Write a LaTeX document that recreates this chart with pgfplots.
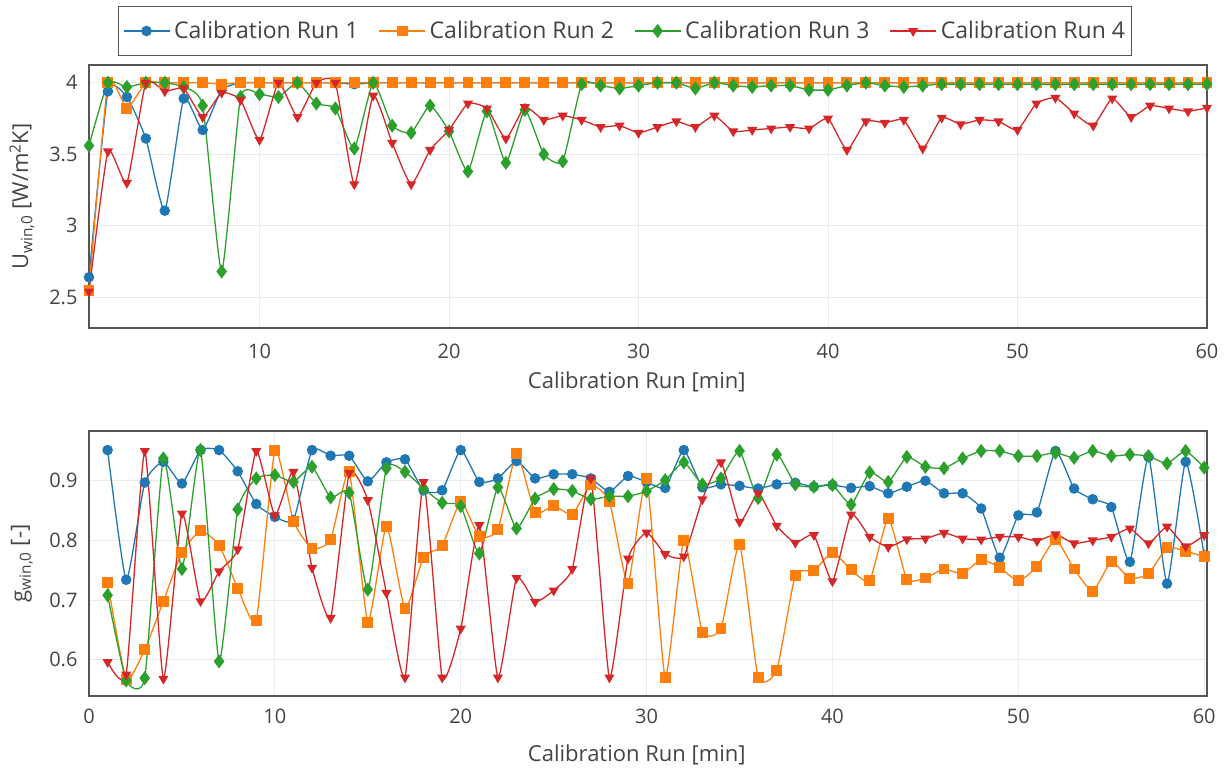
\documentclass[border=0pt]{standalone}
\usepackage{pgfplots}
\pgfplotsset{compat=1.18}
\usepackage{pgfplotstable}
\usepackage{fontspec}
\setmainfont{Open Sans}

\definecolor{c1}{HTML}{1F77B4}
\definecolor{c2}{HTML}{FF7F0E}
\definecolor{c3}{HTML}{2CA02C}
\definecolor{c4}{HTML}{D62728}
\definecolor{txt}{HTML}{444444}
\definecolor{frame}{HTML}{555555}
\definecolor{gridc}{HTML}{EBEBEB}

% U-value per calibration minute
\pgfplotstableread{
x r1 r2 r3 r4
1 2.64 2.55 3.56 2.54
2 3.94 4.00 4.00 3.52
3 3.90 3.82 3.97 3.30
4 3.61 4.00 4.00 4.00
5 3.105 4.00 4.00 3.94
6 3.89 4.00 3.97 3.96
7 3.67 4.00 3.84 3.76
8 3.95 3.99 2.68 3.93
9 4.00 4.00 3.90 3.88
10 4.00 4.00 3.92 3.60
11 4.00 4.00 3.90 4.00
12 4.00 4.00 4.00 3.76
13 4.00 4.00 3.855 4.00
14 4.00 4.00 3.82 4.00
15 3.99 4.00 3.54 3.29
16 4.00 4.00 4.00 3.91
17 4.00 4.00 3.70 3.58
18 4.00 4.00 3.65 3.29
19 4.00 4.00 3.84 3.53
20 4.00 4.00 3.66 3.67
21 4.00 4.00 3.38 3.855
22 4.00 4.00 3.80 3.82
23 4.00 4.00 3.44 3.61
24 4.00 4.00 3.81 3.83
25 4.00 4.00 3.50 3.74
26 4.00 4.00 3.45 3.77
27 4.00 4.00 3.99 3.74
28 4.00 4.00 3.98 3.69
29 4.00 4.00 3.96 3.70
30 4.00 4.00 3.98 3.65
31 4.00 4.00 4.00 3.69
32 4.00 4.00 4.00 3.73
33 4.00 4.00 3.96 3.69
34 4.00 4.00 4.00 3.77
35 4.00 4.00 3.98 3.66
36 4.00 4.00 3.97 3.67
37 4.00 4.00 3.98 3.68
38 4.00 4.00 3.98 3.69
39 4.00 4.00 3.95 3.68
40 4.00 4.00 3.95 3.75
41 4.00 4.00 3.98 3.53
42 4.00 4.00 4.00 3.73
43 4.00 4.00 3.98 3.72
44 4.00 4.00 3.97 3.74
45 4.00 4.00 3.98 3.54
46 4.00 4.00 3.99 3.755
47 4.00 4.00 3.99 3.71
48 4.00 4.00 3.99 3.74
49 4.00 4.00 3.99 3.73
50 4.00 4.00 3.99 3.67
51 4.00 4.00 3.99 3.855
52 4.00 4.00 3.99 3.895
53 4.00 4.00 3.99 3.785
54 4.00 4.00 3.99 3.70
55 4.00 4.00 3.99 3.89
56 4.00 4.00 3.99 3.76
57 4.00 4.00 3.99 3.84
58 4.00 4.00 3.99 3.82
59 4.00 4.00 3.99 3.80
60 4.00 4.00 3.99 3.825
}\utable

% g-value per calibration minute
\pgfplotstableread{
x r1 r2 r3 r4
1 0.9515 0.729 0.708 0.596
2 0.734 0.567 0.565 0.575
3 0.897 0.617 0.569 0.950
4 0.932 0.698 0.9375 0.568
5 0.8955 0.780 0.752 0.845
6 0.9515 0.816 0.9515 0.698
7 0.9515 0.792 0.597 0.748
8 0.916 0.720 0.852 0.785
9 0.861 0.666 0.904 0.950
10 0.8395 0.9515 0.9095 0.842
11 0.834 0.832 0.898 0.915
12 0.9515 0.786 0.9235 0.754
13 0.942 0.801 0.872 0.670
14 0.942 0.915 0.880 0.913
15 0.899 0.663 0.7175 0.8675
16 0.931 0.824 0.921 0.712
17 0.936 0.6855 0.915 0.570
18 0.884 0.772 0.887 0.898
19 0.884 0.791 0.863 0.570
20 0.9515 0.865 0.8575 0.652
21 0.898 0.806 0.778 0.8255
22 0.904 0.818 0.889 0.570
23 0.933 0.946 0.820 0.737
24 0.904 0.847 0.870 0.697
25 0.911 0.858 0.886 0.716
26 0.911 0.8435 0.883 0.752
27 0.904 0.893 0.869 0.904
28 0.8815 0.865 0.874 0.570
29 0.908 0.7275 0.874 0.7695
30 0.898 0.904 0.8825 0.813
31 0.888 0.570 0.901 0.777
32 0.9515 0.800 0.931 0.773
33 0.889 0.646 0.894 0.869
34 0.894 0.652 0.904 0.931
35 0.8915 0.793 0.950 0.831
36 0.887 0.570 0.871 0.879
37 0.894 0.582 0.944 0.8245
38 0.8965 0.7415 0.894 0.796
39 0.890 0.749 0.890 0.809
40 0.893 0.780 0.893 0.7315
41 0.888 0.751 0.860 0.8435
42 0.891 0.732 0.914 0.806
43 0.879 0.837 0.898 0.789
44 0.890 0.735 0.940 0.802
45 0.900 0.737 0.9235 0.803
46 0.879 0.752 0.921 0.8125
47 0.879 0.744 0.9375 0.803
48 0.8535 0.768 0.950 0.8015
49 0.771 0.754 0.950 0.806
50 0.842 0.732 0.9415 0.806
51 0.847 0.7555 0.9415 0.799
52 0.950 0.802 0.947 0.810
53 0.887 0.752 0.9385 0.795
54 0.869 0.7145 0.950 0.800
55 0.856 0.764 0.9415 0.806
56 0.764 0.736 0.944 0.820
57 0.940 0.744 0.9415 0.795
58 0.7275 0.7875 0.929 0.823
59 0.932 0.782 0.950 0.790
60 0.775 0.7725 0.922 0.809
}\gtable

\pgfplotsset{
  panel/.style={
    scale only axis,
    width=1118pt,
    axis line style={frame, line width=1.4pt},
    grid=major,
    major grid style={gridc, line width=0.9pt},
    major tick length=0pt,
    tick label style={txt, font=\fontsize{20}{24}\selectfont},
    /pgf/number format/assume math mode=true,
    label style={txt, font=\fontsize{22}{26}\selectfont},
    xlabel={Calibration Run [min]},
    yticklabel style={xshift=-8pt},
    legend image code/.code={%
      \draw[mark repeat=2,mark phase=2,#1]
        plot coordinates {(0pt,0pt)(23pt,0pt)(46pt,0pt)};},
  },
  s1/.style={c1, line width=1.3pt, smooth, tension=0.3,
    mark=*, mark size=4.6pt, mark options={solid, fill=c1, draw=c1}},
  s2/.style={c2, line width=1.3pt, smooth, tension=0.3,
    mark=square*, mark size=4.8pt, mark options={solid, fill=c2, draw=c2}},
  s3/.style={c3, line width=1.3pt, smooth, tension=0.3,
    mark=diamond*, mark size=6pt, mark options={solid, fill=c3, draw=c3}},
  s4/.style={c4, line width=1.3pt, smooth, tension=0.3,
    mark=triangle*, mark size=4.6pt, mark options={solid, fill=c4, draw=c4, rotate=180}},
}

\begin{document}
\begin{tikzpicture}
\path[use as bounding box] (0pt,0pt) rectangle (1231pt,774pt);

% upper panel: U-value
\begin{axis}[panel,
  at={(89pt,446pt)}, anchor=south west,
  height=263pt,
  xmin=1, xmax=60,
  ymin=2.285, ymax=4.124,
  xtick={10,20,30,40,50,60},
  ytick={2.5,3,3.5,4},
  yticklabels={2.5,3,3.5,4},
  xticklabel style={yshift=-12pt},
  ylabel={U\textsubscript{win,0} [W/m\textsuperscript{2}K]},
  ylabel style={at={(axis description cs:-0.06,0.5)}, anchor=center},
  xlabel style={at={(axis description cs:0.49,-0.205)}, anchor=center},
  legend columns=4,
  legend style={at={(0.4794,1)}, anchor=south, yshift=9pt,
    draw=frame, line width=1pt, fill=white,
    font=\fontsize{23}{27}\selectfont, text=txt,
    inner xsep=4pt, inner ysep=13pt,
    /tikz/every even column/.append style={column sep=18pt},
    /tikz/every odd column/.append style={column sep=2pt}},
  legend cell align=left,
]
\addplot[s1] table[x=x, y=r1] {\utable};
\addplot[s2] table[x=x, y=r2] {\utable};
\addplot[s3] table[x=x, y=r3] {\utable};
\addplot[s4] table[x=x, y=r4] {\utable};
\legend{Calibration Run 1, Calibration Run 2, Calibration Run 3, Calibration Run 4}
\end{axis}

% lower panel: g-value
\begin{axis}[panel,
  at={(89pt,78pt)}, anchor=south west,
  height=265pt,
  xmin=0, xmax=60.15,
  ymin=0.539, ymax=0.9835,
  xtick={0,10,20,30,40,50,60},
  ytick={0.6,0.7,0.8,0.9},
  yticklabels={0.6,0.7,0.8,0.9},
  xticklabel style={yshift=-9pt},
  ylabel={g\textsubscript{win,0} [-]},
  ylabel style={at={(axis description cs:-0.06,0.5)}, anchor=center},
  xlabel style={at={(axis description cs:0.49,-0.223)}, anchor=center},
]
\addplot[s1] table[x=x, y=r1] {\gtable};
\addplot[s2] table[x=x, y=r2] {\gtable};
\addplot[s3] table[x=x, y=r3] {\gtable};
\addplot[s4] table[x=x, y=r4] {\gtable};
\end{axis}
\end{tikzpicture}
\end{document}
